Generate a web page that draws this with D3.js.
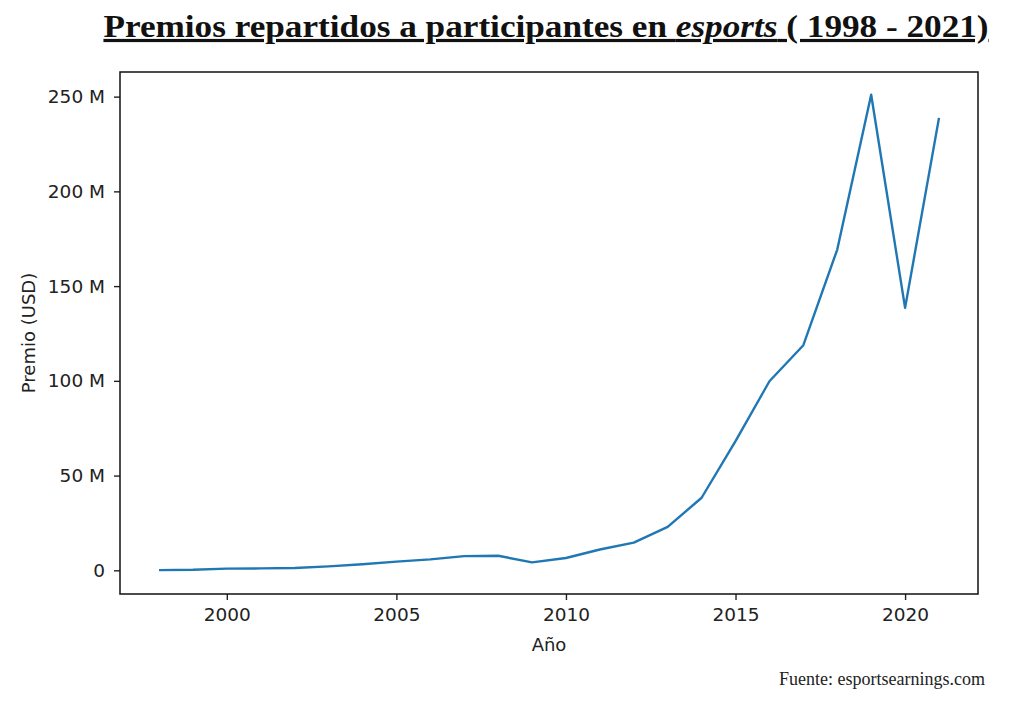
<!DOCTYPE html>
<html>
<head>
<meta charset="utf-8">
<script src="https://cdn.jsdelivr.net/npm/d3@7"></script>
<style>
  body { margin: 0; background: #fff; }
  svg { display: block; }
</style>
</head>
<body>
<svg id="chart" width="1024" height="703"></svg>
<script>
// datos (millones de USD)
var years = [1998, 1999, 2000, 2001, 2002, 2003, 2004, 2005, 2006, 2007, 2008, 2009,
  2010, 2011, 2012, 2013, 2014, 2015, 2016, 2017, 2018, 2019, 2020, 2021];
var prizes = [0.1, 0.3, 0.9, 1.0, 1.2, 2.1, 3.2, 4.6, 5.8, 7.5, 7.7, 4.2,
  6.5, 11.0, 14.6, 22.9, 38.3, 68.2, 99.8, 118.8, 169.3, 251, 138.5, 238.8];
var xTicks = [2000, 2005, 2010, 2015, 2020];
var yTicks = [0, 50, 100, 150, 200, 250];

var svg = d3.select("#chart");
var plotL = 120, plotR = 978, plotT = 72, plotB = 594;

var x = d3.scaleLinear().domain([1996.85, 2022.15]).range([plotL, plotR]);
var y = d3.scaleLinear().domain([-12.5, 263]).range([plotB, plotT]);

// ejes
var xAxis = svg.append("g")
  .attr("transform", "translate(0," + plotB + ")")
  .call(d3.axisBottom(x).tickValues(xTicks).tickFormat(d3.format("d")).tickSize(6).tickPadding(8));
var yAxis = svg.append("g")
  .attr("transform", "translate(" + plotL + ",0)")
  .call(d3.axisLeft(y).tickValues(yTicks).tickFormat(function(d){ return d === 0 ? "0" : d + " M"; }).tickSize(6).tickPadding(9));

[xAxis, yAxis].forEach(function(a){
  a.select(".domain").remove();
  a.selectAll("text").attr("font-family", "DejaVu Sans").attr("font-size", 18.5).attr("fill", "#222");
  a.selectAll("line").attr("stroke", "#222").attr("stroke-width", 1.4);
});

// linea
var line = d3.line()
  .x(function(d, i){ return x(years[i]); })
  .y(function(d){ return y(d); });

svg.append("path")
  .datum(prizes)
  .attr("d", line)
  .attr("fill", "none")
  .attr("stroke", "#1f77b4")
  .attr("stroke-width", 2.4)
  .attr("stroke-linejoin", "round");

// marco
svg.append("rect")
  .attr("x", plotL).attr("y", plotT)
  .attr("width", plotR - plotL).attr("height", plotB - plotT)
  .attr("fill", "none").attr("stroke", "#111").attr("stroke-width", 1.5);

// etiquetas
svg.append("text")
  .attr("x", (plotL + plotR) / 2).attr("y", 651)
  .attr("text-anchor", "middle")
  .attr("font-family", "DejaVu Sans").attr("font-size", 18).attr("fill", "#222")
  .text("Año");

svg.append("text")
  .attr("transform", "translate(35," + ((plotT + plotB) / 2) + ") rotate(-90)")
  .attr("text-anchor", "middle")
  .attr("font-family", "DejaVu Sans").attr("font-size", 18).attr("fill", "#222")
  .text("Premio (USD)");

var title = svg.append("text")
  .attr("transform", "translate(546,37) scale(1.1,1)")
  .attr("text-anchor", "middle")
  .attr("font-family", "Liberation Serif").attr("font-size", 32).attr("font-weight", "bold")
  .attr("text-decoration", "underline").attr("fill", "#111");
title.append("tspan").text("Premios repartidos a participantes en ");
title.append("tspan").attr("font-style", "italic").text("esports");
title.append("tspan").text(" ( 1998 - 2021)");

svg.append("text")
  .attr("x", 985).attr("y", 685)
  .attr("text-anchor", "end")
  .attr("font-family", "Liberation Serif").attr("font-size", 18).attr("fill", "#222")
  .text("Fuente: esportsearnings.com");
</script>
</body>
</html>
